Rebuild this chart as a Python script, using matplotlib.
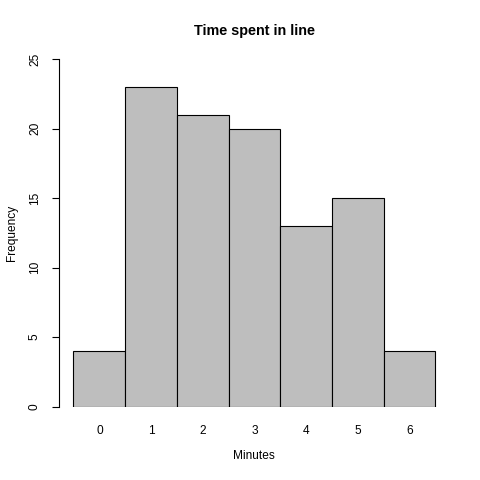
import matplotlib
matplotlib.use("Agg")
import matplotlib.pyplot as plt

minutes = [0, 1, 2, 3, 4, 5, 6]
freq = [4, 23, 21, 20, 13, 15, 4]
yticks = [0, 5, 10, 15, 20, 25]
title = "Time spent in line"
xlabel = "Minutes"
ylabel = "Frequency"

plt.rcParams['font.family'] = ['Liberation Sans', 'DejaVu Sans']

W = H = 480
fig = plt.figure(figsize=(4.8, 4.8), dpi=100)
left, right, top, bottom = 59.0, 449.8, 59.0, 406.6
ax = fig.add_axes([left / W, 1 - bottom / H, (right - left) / W, (bottom - top) / H])

pos = list(range(len(minutes)))
ax.bar(pos, freq, width=1.0, align='edge', color='#BEBEBE', edgecolor='black', linewidth=0.8)
ax.set_xlim(-0.28, 7.28)
ax.set_ylim(0, 25)

for s in ['top', 'right', 'bottom']:
    ax.spines[s].set_visible(False)
ax.spines['left'].set_bounds(0, 25)
ax.spines['left'].set_linewidth(0.8)

ax.set_yticks(yticks)
ax.set_yticklabels([str(t) for t in yticks], rotation=90, va='center', fontsize=8.6)
ax.tick_params(axis='y', length=5, width=0.8, pad=8)

ax.set_xticks([p + 0.5 for p in pos])
ax.set_xticklabels([str(m) for m in minutes], fontsize=8.6)
ax.tick_params(axis='x', length=0, pad=13)

fig.text(254 / W, 1 - 31 / H, title, ha='center', va='center', fontsize=10.4, fontweight='bold')
fig.text(254 / W, 1 - 456 / H, xlabel, ha='center', va='center', fontsize=8.6)
fig.text(12 / W, 1 - 233 / H, ylabel, ha='center', va='center', rotation=90, fontsize=8.6)

fig.savefig("out.png", dpi=100)
